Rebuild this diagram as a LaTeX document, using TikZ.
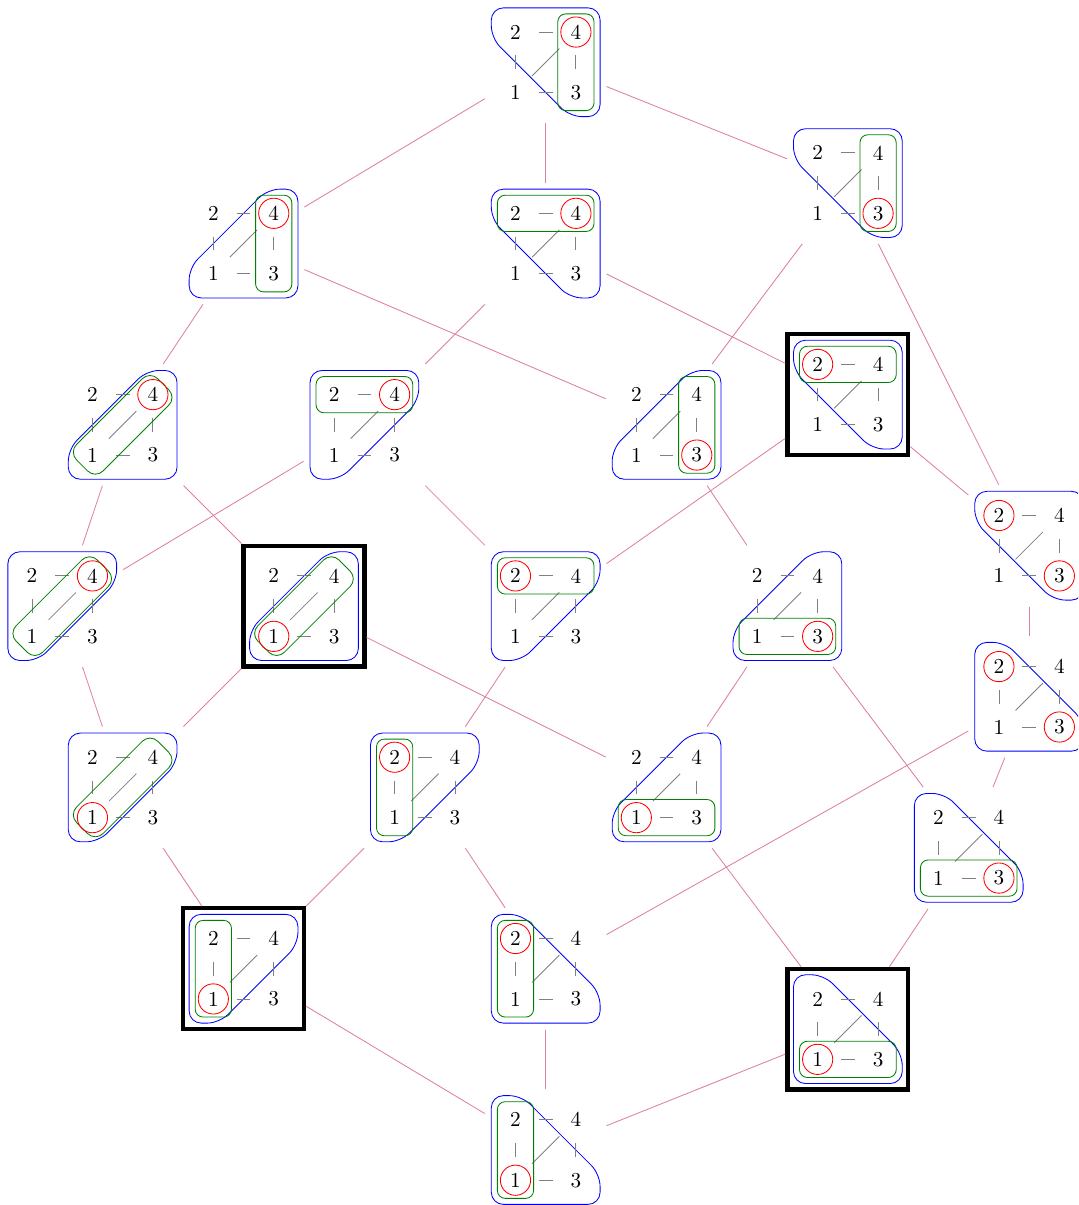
\documentclass[tikz,border=0pt]{standalone}
\usetikzlibrary{calc}
\tikzset{
  bignode/.style={rectangle, minimum width=2cm, minimum height=2cm, inner sep=0pt},
  framed/.style={draw=black, line width=2pt},
  vtx/.style={circle, minimum size=0.76cm, inner sep=0pt},
  gedge/.style={draw=gray},
  hull/.style={draw=blue, rounded corners=0.2cm},
  pairbox/.style={draw=green!50!black, rounded corners=0.13cm},
  diagband/.style={draw=green!50!black, rounded corners=0.18cm, rotate=45,
    minimum width=1.9cm, minimum height=0.62cm, inner sep=0pt},
  redring/.style={draw=red},
  link/.style={draw=purple!50},
}
% name, x, y, sx, sy (cut corner), extra style of the frame node
\newcommand{\Gr}[6]{%
  \node[bignode,#6] (#1) at (#2,#3) {};
  \begin{scope}[shift={(#2,#3)}]
    \draw[hull] ({#4*0.9},{-(#5)*0.4}) -- ({#4*0.9},{-(#5)*0.9}) -- ({-(#4)*0.9},{-(#5)*0.9})
      -- ({-(#4)*0.9},{#5*0.9}) -- ({-(#4)*0.4},{#5*0.9}) -- cycle;
    \node[vtx] (#1-2) at (-0.5,-0.5) {2};
    \node[vtx] (#1-4) at (0.5,-0.5) {4};
    \node[vtx] (#1-1) at (-0.5,0.5) {1};
    \node[vtx] (#1-3) at (0.5,0.5) {3};
  \end{scope}
  \draw[gedge] (#1-2) -- (#1-4);
  \draw[gedge] (#1-2) -- (#1-1);
  \draw[gedge] (#1-4) -- (#1-3);
  \draw[gedge] (#1-1) -- (#1-3);
  \draw[gedge] (#1-1) -- (#1-4);
}
\newcommand{\Pair}[2]{\draw[pairbox] ($(#1)+(-0.3,-0.3)$) rectangle ($(#2)+(0.3,0.3)$);}
\newcommand{\Diag}[1]{\node[diagband] (#1-d) at (#1) {};}
\newcommand{\Ring}[1]{\draw[redring] (#1.center) circle (0.25cm);}
\begin{document}
\begin{tikzpicture}[x=1cm,y=-1cm]
\useasboundingbox (-0.53,-0.53) rectangle (17.31,19.41);
\clip (-0.53,-0.53) rectangle (17.31,19.41);

\Gr{G1}{8.5}{0.5}{-1}{1}{}    \Pair{G1-4}{G1-3} \Ring{G1-4}
\Gr{G2}{13.5}{2.5}{-1}{1}{}   \Pair{G2-4}{G2-3} \Ring{G2-3}
\Gr{G3}{3.5}{3.5}{-1}{-1}{}   \Pair{G3-4}{G3-3} \Ring{G3-4}
\Gr{G4}{8.5}{3.5}{-1}{1}{}    \Pair{G4-2}{G4-4} \Ring{G4-4}
\Gr{G5}{13.5}{6}{-1}{1}{framed} \Pair{G5-2}{G5-4} \Ring{G5-2}
\Gr{G6}{1.5}{6.5}{-1}{-1}{}   \Diag{G6} \Ring{G6-4}
\Gr{G7}{5.5}{6.5}{1}{1}{}     \Pair{G7-2}{G7-4} \Ring{G7-4}
\Gr{G8}{10.5}{6.5}{-1}{-1}{}  \Pair{G8-4}{G8-3} \Ring{G8-3}
\Gr{G9}{16.5}{8.5}{-1}{1}{}   \Ring{G9-2} \Ring{G9-3}
\Gr{G10}{0.5}{9.5}{1}{1}{}    \Diag{G10} \Ring{G10-4}
\Gr{G11}{4.5}{9.5}{-1}{-1}{framed} \Diag{G11} \Ring{G11-1}
\Gr{G12}{8.5}{9.5}{1}{1}{}    \Pair{G12-2}{G12-4} \Ring{G12-2}
\Gr{G13}{12.5}{9.5}{-1}{-1}{} \Pair{G13-1}{G13-3} \Ring{G13-3}
\Gr{G14}{16.5}{11}{1}{-1}{}   \Ring{G14-2} \Ring{G14-3}
\Gr{G15}{1.5}{12.5}{1}{1}{}   \Diag{G15} \Ring{G15-1}
\Gr{G16}{6.5}{12.5}{1}{1}{}   \Pair{G16-2}{G16-1} \Ring{G16-2}
\Gr{G17}{10.5}{12.5}{-1}{-1}{} \Pair{G17-1}{G17-3} \Ring{G17-1}
\Gr{G18}{15.5}{13.5}{1}{-1}{} \Pair{G18-1}{G18-3} \Ring{G18-3}
\Gr{G19}{3.5}{15.5}{1}{1}{framed} \Pair{G19-2}{G19-1} \Ring{G19-1}
\Gr{G20}{8.5}{15.5}{1}{-1}{}  \Pair{G20-2}{G20-1} \Ring{G20-2}
\Gr{G21}{13.5}{16.5}{1}{-1}{framed} \Pair{G21-1}{G21-3} \Ring{G21-1}
\Gr{G22}{8.5}{18.5}{1}{-1}{}  \Pair{G22-2}{G22-1} \Ring{G22-1}

\foreach \a/\b in {G1/G3, G1/G4, G1/G2, G3/G6, G3/G8, G4/G7, G4/G5, G2/G8, G2/G9,
  G5/G9, G5/G12, G6/G10, G6/G11, G7/G10, G7/G12, G8/G13, G9/G14, G10/G15,
  G11/G15, G11/G17, G12/G16, G13/G17, G13/G18, G14/G18, G14/G20, G15/G19,
  G16/G19, G16/G20, G17/G21, G18/G21, G19/G22, G20/G22, G21/G22}
  \draw[link] (\a) -- (\b);
\end{tikzpicture}
\end{document}
